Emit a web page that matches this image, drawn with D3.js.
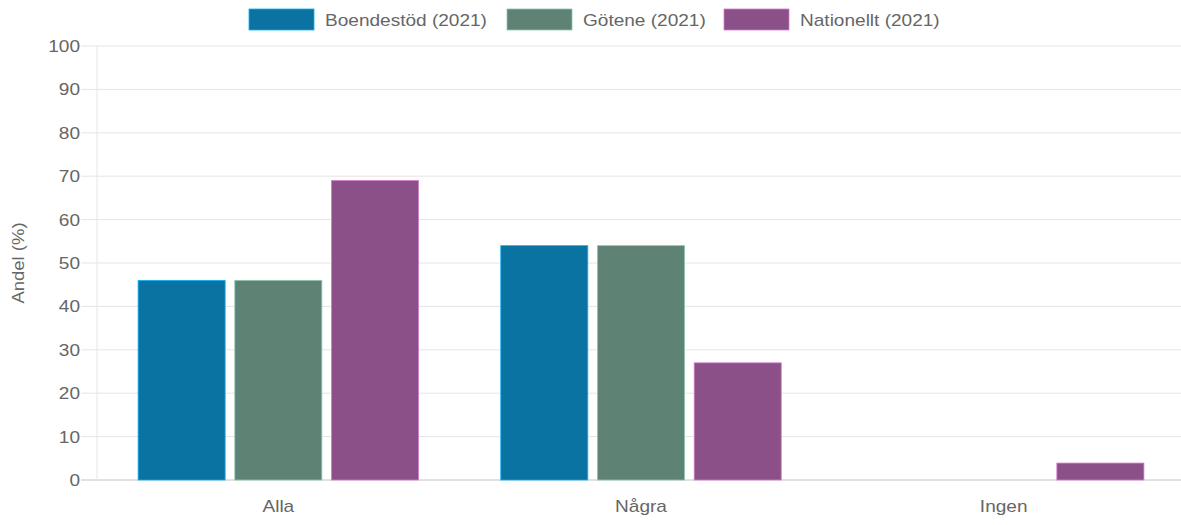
<!DOCTYPE html>
<html>
<head>
<meta charset="utf-8">
<script src="https://cdn.jsdelivr.net/npm/d3@7"></script>
<style>
  body { margin: 0; background: #fff; overflow: hidden; }
  text { font-family: "Liberation Sans", Arial, sans-serif; fill: #666; }
</style>
</head>
<body>
<div class="canvas"></div>
<script>
const categories = ['Alla', 'Några', 'Ingen'];
const seriesNames = ['Boendestöd (2021)', 'Götene (2021)', 'Nationellt (2021)'];
const boendestod = [46, 54, 0];
const gotene = [46, 54, 0];
const nationellt = [69, 27, 3.9];
const yTicks = [0, 10, 20, 30, 40, 50, 60, 70, 80, 90, 100];
const colors = ['#0b73a1', '#5e8273', '#8a5087'];

const dims = { width: 1181, height: 525 };
const margin = { top: 46, right: -4, bottom: 45, left: 97 };
const innerW = dims.width - margin.left - margin.right;
const innerH = dims.height - margin.top - margin.bottom;
const stretch = 1.12;

const svg = d3.select('.canvas')
  .append('svg')
  .attr('width', dims.width)
  .attr('height', dims.height);

const graph = svg.append('g')
  .attr('transform', `translate(${margin.left}, ${margin.top})`);

const x = d3.scaleBand().domain(categories).range([0, innerW]);
const x1 = d3.scaleBand().domain(seriesNames)
  .range([x.bandwidth() * 0.1, x.bandwidth() * 0.9])
  .paddingInner(0.1).paddingOuter(0.05);
const y = d3.scaleLinear().domain([0, 100]).range([innerH, 0]);

// gridlines
graph.selectAll('.grid')
  .data(yTicks)
  .enter().append('line')
  .attr('x1', -16).attr('x2', dims.width - margin.left)
  .attr('y1', d => y(d)).attr('y2', d => y(d))
  .attr('stroke', d => d === 0 ? '#c4c4c4' : '#e5e5e5')
  .attr('stroke-width', 1);

graph.append('line')
  .attr('x1', 0).attr('x2', 0)
  .attr('y1', 0).attr('y2', innerH)
  .attr('stroke', '#e5e5e5');

// y axis
const yAxis = graph.append('g')
  .call(d3.axisLeft(y).tickValues(yTicks).tickSize(0).tickPadding(17));
yAxis.select('.domain').remove();
yAxis.selectAll('text').style('font-size', '17px').attr('fill', '#666');

// x axis
const xAxis = graph.append('g')
  .attr('transform', `translate(0, ${innerH})`)
  .call(d3.axisBottom(x).tickSize(0).tickPadding(20));
xAxis.select('.domain').remove();
xAxis.selectAll('text').style('font-size', '17px').attr('fill', '#666');

// y label
svg.append('text')
  .attr('transform', `translate(24, ${margin.top + innerH / 2}) rotate(-90)`)
  .attr('text-anchor', 'middle')
  .style('font-size', '16.5px')
  .text('Andel (%)');

// bars
const series = [boendestod, gotene, nationellt];
const groups = graph.selectAll('.group')
  .data(categories)
  .enter().append('g')
  .attr('transform', d => `translate(${x(d)}, 0)`);

groups.selectAll('rect')
  .data((c, i) => series.map((s, j) => ({ name: seriesNames[j], value: s[i], color: colors[j] })))
  .enter().append('rect')
  .attr('x', d => x1(d.name))
  .attr('width', x1.bandwidth())
  .attr('y', d => y(d.value))
  .attr('height', d => innerH - y(d.value))
  .attr('fill', d => d.color)
  .attr('stroke', d => d3.color(d.color).brighter(1.2))
  .attr('stroke-width', d => d.value > 0 ? 0.8 : 0);

// legend
const legendItems = [
  { x: 249, name: seriesNames[0], color: colors[0] },
  { x: 507, name: seriesNames[1], color: colors[1] },
  { x: 724, name: seriesNames[2], color: colors[2] }
];
const legend = svg.selectAll('.legend')
  .data(legendItems)
  .enter().append('g')
  .attr('transform', d => `translate(${d.x}, 9)`);
legend.append('rect')
  .attr('width', 65).attr('height', 21)
  .attr('fill', d => d.color)
  .attr('stroke', d => d3.color(d.color).brighter(1.2))
  .attr('stroke-width', 0.8);
legend.append('text')
  .attr('x', 76).attr('y', 16.5)
  .style('font-size', '17px')
  .text(d => d.name);

// the reference text is a bit wider than the font: stretch it
svg.selectAll('text').each(function () {
  const w = this.getComputedTextLength();
  d3.select(this)
    .attr('textLength', w * stretch)
    .attr('lengthAdjust', 'spacingAndGlyphs');
});
</script>
</body>
</html>
